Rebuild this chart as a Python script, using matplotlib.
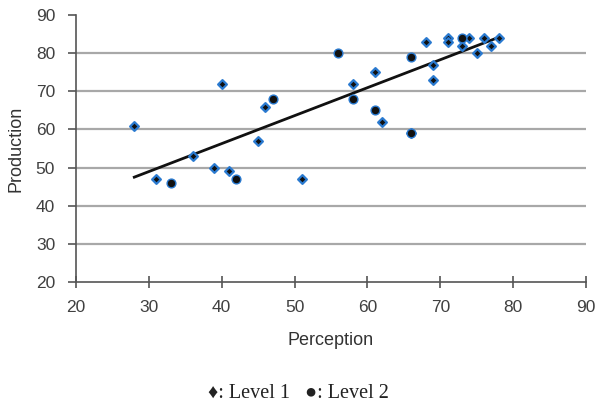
import numpy as np
import matplotlib.pyplot as plt

# Level 1 (diamonds)
lvl1_x = [28, 31, 36, 39, 40, 41, 45, 46, 51, 58, 61, 62, 66, 68, 69, 69, 71, 71, 73, 74, 75, 76, 77, 78]
lvl1_y = [61, 47, 53, 50, 72, 49, 57, 66, 47, 72, 75, 62, 59, 83, 77, 73, 84, 83, 82, 84, 80, 84, 82, 84]

# Level 2 (circles)
lvl2_x = [33, 42, 47, 56, 58, 61, 66, 66, 73]
lvl2_y = [46, 47, 68, 80, 68, 65, 59, 79, 84]

# trend line
trend_x = [28, 78.2]
trend_y = [47.5, 84.3]

xticks = [20, 30, 40, 50, 60, 70, 80, 90]
yticks = [20, 30, 40, 50, 60, 70, 80, 90]

plt.rcParams['font.family'] = ['Liberation Sans', 'DejaVu Sans']

fig = plt.figure(figsize=(5.97, 4.07), dpi=100)
ax = fig.add_axes([0.1273, 0.307, 0.8543, 0.656])

for y in yticks[1:-1]:
    ax.axhline(y, color='#a8a8a8', lw=1.6, zorder=1)

ax.plot(trend_x, trend_y, color='#111111', lw=2, zorder=2)

blue = '#2a7ad0'
ax.scatter(lvl1_x, lvl1_y, marker='D', s=20, c='#111111', edgecolors=blue, linewidths=1.6, zorder=3)
ax.scatter(lvl2_x, lvl2_y, marker='o', s=40, c='#111111', edgecolors=blue, linewidths=1.0, zorder=3)

ax.set_xlim(20, 90)
ax.set_ylim(20, 90)
ax.set_xticks(xticks)
ax.set_yticks(yticks)

for side in ['top', 'right']:
    ax.spines[side].set_visible(False)
for side in ['left', 'bottom']:
    ax.spines[side].set_color('#555555')
    ax.spines[side].set_linewidth(1.2)

ax.tick_params(axis='x', direction='inout', length=8, width=1.2, color='#555555',
               labelsize=12.5, labelcolor='#404040', pad=9)
ax.tick_params(axis='y', direction='out', length=6, width=1.2, color='#555555',
               labelsize=12.5, labelcolor='#404040', pad=9)

ax.set_xlabel('Perception', fontsize=13, color='#333333', labelpad=12)
ax.set_ylabel('Production', fontsize=13, color='#333333', labelpad=8)

fig.text(0.5, 0.01, '♦: Level 1   ●: Level 2', ha='center', va='bottom',
         fontsize=14.5, family=['Liberation Serif', 'DejaVu Sans'], color='#222222')

fig.savefig('out.png', dpi=100)
